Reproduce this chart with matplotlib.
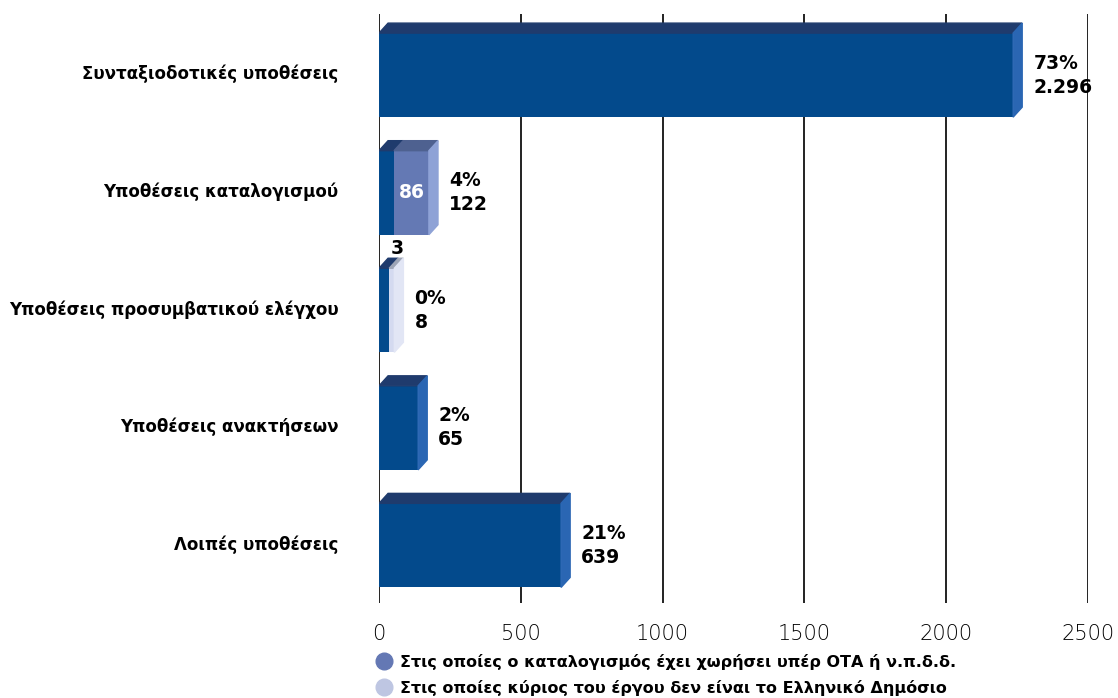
import matplotlib.pyplot as plt
from matplotlib.patches import Polygon
from matplotlib.lines import Line2D
from matplotlib.transforms import ScaledTranslation

categories = [
    "Συνταξιοδοτικές υποθέσεις",
    "Υποθέσεις καταλογισμού",
    "Υποθέσεις προσυμβατικού ελέγχου",
    "Υποθέσεις ανακτήσεων",
    "Λοιπές υποθέσεις",
]
# bar extents as drawn in the picture (axis units)
main_len = [2236, 53, 36, 138, 642]
ota_len = [0, 123, 0, 0, 0]
owner_len = [0, 0, 18, 0, 0]

pct_labels = ["73%", "4%", "0%", "2%", "21%"]
total_labels = ["2.296", "122", "8", "65", "639"]
ota_labels = ["", "86", "", "", ""]
main_seg_labels = ["", "", "3", "", ""]

legend_labels = [
    "Στις οποίες ο καταλογισμός έχει χωρήσει υπέρ ΟΤΑ ή ν.π.δ.δ.",
    "Στις οποίες κύριος του έργου δεν είναι το Ελληνικό Δημόσιο",
]
xticks = [0, 500, 1000, 1500, 2000, 2500]

# front / top / side colours per series
main_c = ("#034a8c", "#1f3b6d", "#2a66b3")
ota_c = ("#6479b4", "#4e6190", "#8ea2d6")
owner_c = ("#d4daf0", "#9ea5b6", "#e2e6f5")

plt.rcParams["font.family"] = ["DejaVu Sans"]

W, H = 1118, 698
fig = plt.figure(figsize=(W / 100, H / 100), dpi=100)
ax = fig.add_axes([379 / W, 1 - 603 / H, (1088 - 379) / W, (603 - 14) / H])

ax.set_xlim(0, 2500)
ax.set_ylim(4.49, -0.52)
ax.set_xticks(xticks)
ax.set_xticklabels([str(t) for t in xticks], fontsize=15, color="#000000",
                   fontweight="light")
ax.tick_params(axis="x", length=0, pad=15)
ax.set_yticks(range(len(categories)))
ax.set_yticklabels(categories, fontsize=12, fontweight="bold")
ax.tick_params(axis="y", length=0, pad=29)
shift = ScaledTranslation(0, 3 / 100, fig.dpi_scale_trans)
for lab in ax.get_yticklabels():
    lab.set_transform(lab.get_transform() + shift)
for s in ax.spines.values():
    s.set_visible(False)
ax.grid(axis="x", color="#111111", linewidth=1.3)
ax.set_axisbelow(True)

h = 0.715
dx = 32
dy = 0.085
ys = list(range(len(categories)))

series = [(main_len, main_c), (ota_len, ota_c), (owner_len, owner_c)]
left = [0] * len(categories)
ends = [0] * len(categories)
for vals, cols in series:
    ax.barh(ys, vals, left=left, height=h, color=cols[0], zorder=3)
    for i, v in enumerate(vals):
        if v <= 0:
            continue
        x0, x1 = left[i], left[i] + v
        top = ys[i] - h / 2
        ax.add_patch(Polygon([(x0, top), (x0 + dx, top - dy), (x1 + dx, top - dy), (x1, top)],
                             closed=True, color=cols[1], zorder=3))
        ends[i] = x1
    left = [l + v for l, v in zip(left, vals)]

# side faces on last segment of each bar
for i in ys:
    x1 = ends[i]
    cols = main_c
    if owner_len[i] > 0:
        cols = owner_c
    elif ota_len[i] > 0:
        cols = ota_c
    top = i - h / 2
    bot = i + h / 2
    ax.add_patch(Polygon([(x1, top), (x1 + dx, top - dy), (x1 + dx, bot - dy), (x1, bot)],
                         closed=True, color=cols[2], zorder=3))

for i in ys:
    ax.annotate(pct_labels[i] + "\n" + total_labels[i], (ends[i] + dx, i),
                xytext=(8, 0), textcoords="offset points", va="center", ha="left",
                fontsize=13.5, fontweight="bold", linespacing=1.35, zorder=5)
    if ota_labels[i]:
        ax.text(main_len[i] + ota_len[i] / 2, i, ota_labels[i], ha="center", va="center",
                color="white", fontsize=13.5, fontweight="bold", zorder=5)
    if main_seg_labels[i]:
        ax.text(main_len[i] / 2 + 45, i - h / 2 - 0.17, main_seg_labels[i], ha="center",
                va="center", fontsize=13.5, fontweight="bold", zorder=5)

handles = [
    Line2D([], [], marker="o", linestyle="none", markersize=12, color="#6478b4"),
    Line2D([], [], marker="o", linestyle="none", markersize=12, color="#bec6e2"),
]
fig.legend(handles, legend_labels, loc="upper left", bbox_to_anchor=(374 / W, 1 - 654 / H),
           frameon=False, prop={"weight": "bold", "size": 11.5}, handletextpad=0.4,
           labelspacing=0.6, handlelength=1.2, borderaxespad=0, borderpad=0)

fig.savefig("out.png", dpi=100)
